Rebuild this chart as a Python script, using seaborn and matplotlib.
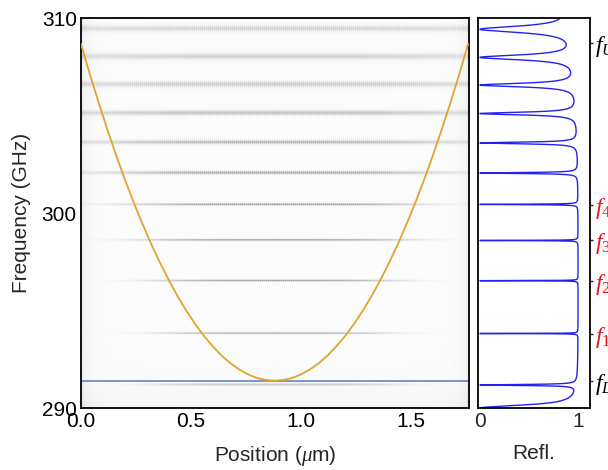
import numpy as np
import pandas as pd
import matplotlib
matplotlib.use("Agg")
import matplotlib.pyplot as plt
import seaborn as sns

# ---------------- data ----------------
# band-edge parabola (orange), sampled points read from the picture
edge_x = [0.00, 0.04, 0.08, 0.12, 0.16, 0.20, 0.24, 0.28, 0.32, 0.36, 0.40, 0.44,
          0.48, 0.52, 0.56, 0.60, 0.64, 0.68, 0.72, 0.76, 0.80, 0.84, 0.88,
          0.92, 0.96, 1.00, 1.04, 1.08, 1.12, 1.16, 1.20, 1.24, 1.28, 1.32,
          1.36, 1.40, 1.44, 1.48, 1.52, 1.56, 1.60, 1.64, 1.68, 1.72, 1.76]
edge_f = [308.67, 307.13, 305.67, 304.28, 302.96, 301.71, 300.53, 299.43, 298.39,
          297.43, 296.54, 295.72, 294.97, 294.29, 293.68, 293.15, 292.68, 292.29,
          291.97, 291.72, 291.54, 291.44, 291.40,
          291.44, 291.54, 291.72, 291.97, 292.29, 292.68, 293.15, 293.68, 294.29,
          294.97, 295.72, 296.54, 297.43, 298.39, 299.43, 300.53, 301.71, 302.96,
          304.28, 305.67, 307.13, 308.67]

# horizontal blue line (lower band-edge frequency)
blue_f = 291.37

# resonance lines in the map: frequency, darkness, line width (GHz), spatial extent (um)
map_f     = [291.20, 293.83, 296.52, 298.60, 300.42, 302.04, 303.60, 305.10, 306.57, 307.99, 309.42]
map_amp   = [0.22, 0.32, 0.34, 0.34, 0.36, 0.32, 0.29, 0.26, 0.23, 0.21, 0.19]
map_width = [0.07, 0.055, 0.055, 0.06, 0.065, 0.09, 0.11, 0.13, 0.15, 0.16, 0.17]
map_ext   = [0.60, 0.55, 0.60, 0.66, 0.72, 0.82, 0.92, 1.00, 1.05, 1.10, 1.10]

# reflection dips: centre frequency and half-width (GHz)
refl_f     = [290.00, 291.18, 293.82, 296.53, 298.59, 300.44, 302.05, 303.59, 305.10, 306.56, 307.98, 309.42, 310.85]
refl_gamma = [0.17, 0.03, 0.008, 0.008, 0.010, 0.015, 0.03, 0.05, 0.08, 0.11, 0.15, 0.20, 0.25]

# marked frequencies on the right
mark_f      = [308.70, 300.42, 298.59, 296.53, 293.82, 291.40]
mark_labels = [r"$f_U$", r"$f_4$", r"$f_3$", r"$f_2$", r"$f_1$", r"$f_L$"]
mark_colors = ["black", "#e8141e", "#e8141e", "#e8141e", "#e8141e", "black"]

x_ticks = [0.0, 0.5, 1.0, 1.5]
y_ticks = [290, 300, 310]
refl_ticks = [0, 1]

# ---------------- styling ----------------
sns.set_style("white")
plt.rcParams["font.family"] = ["Liberation Sans", "DejaVu Sans"]
plt.rcParams["mathtext.fontset"] = "custom"
plt.rcParams["mathtext.it"] = "Liberation Serif:italic"
plt.rcParams["mathtext.rm"] = "Liberation Serif"
FS = 15

fig = plt.figure(figsize=(6.08, 4.70), dpi=100)
ax = fig.add_axes([0.1332, 0.1319, 0.6382, 0.8298])
ax2 = fig.add_axes([0.7862, 0.1319, 0.1842, 0.8298])

XMAX = 1.764
# ---------------- background map built from the resonance list ----------------
nf, nx = 2000, 390
ff = np.linspace(290, 310, nf)[:, None]
xx = np.linspace(0, XMAX, nx)[None, :]
Z = np.zeros((nf, nx))
for f0, a, w, e in zip(map_f, map_amp, map_width, map_ext):
    Z += a * np.exp(-((ff - f0) / w) ** 2) * np.exp(-((xx - 0.88) / e) ** 4)
Z += 0.10 * np.exp(-xx / 0.03) + 0.10 * np.exp(-(XMAX - xx) / 0.03)
Z += 0.06 * np.exp(-(ff - 290) / 0.7)
Z += 0.025
stripes = 1.0 + 0.30 * ((np.arange(nx) % 2)[None, :])
Z = Z * stripes
ax.imshow(Z, extent=[0, XMAX, 290, 310], origin="lower", aspect="auto",
          cmap="Greys", vmin=0, vmax=1, interpolation="nearest", zorder=0)

edge_df = pd.DataFrame({"x": edge_x, "f": edge_f})
sns.lineplot(data=edge_df, x="x", y="f", sort=False, estimator=None,
             color="#e3a32f", lw=1.3, ax=ax, zorder=3)
ax.axhline(blue_f, color="#6f8fc4", lw=1.3, zorder=2)

ax.set_xlim(0, XMAX)
ax.set_ylim(290, 310)
ax.set_xticks(x_ticks)
ax.set_xticklabels([f"{t:.1f}" for t in x_ticks])
ax.set_yticks(y_ticks)
ax.set_yticklabels([str(t) for t in y_ticks])
ax.tick_params(direction="in", length=4, width=1, labelsize=FS, pad=3, colors="black")
ax.set_xlabel(r"Position ($\mu$m)", fontsize=FS, labelpad=9)
ax.set_ylabel("Frequency (GHz)", fontsize=FS, labelpad=8)
for s in ax.spines.values():
    s.set_visible(True)
    s.set_color("black")
    s.set_linewidth(1.3)

# ---------------- reflection panel ----------------
fgrid = np.linspace(289.5, 311.0, 43001)
R = np.ones_like(fgrid)
for f0, g in zip(refl_f, refl_gamma):
    R *= 1 - g ** 2 / ((fgrid - f0) ** 2 + g ** 2)
refl_df = pd.DataFrame({"R": R, "f": fgrid})
sns.lineplot(data=refl_df, x="R", y="f", sort=False, estimator=None,
             color="#2222ee", lw=1.0, ax=ax2)
ax2.set_xlim(-0.02, 1.12)
ax2.set_ylim(290, 310)
ax2.set_xticks(refl_ticks)
ax2.set_xticklabels([str(t) for t in refl_ticks])
ax2.tick_params(axis="x", direction="in", length=4, width=1, labelsize=FS, pad=3)
ax2.set_xlabel("Refl.", fontsize=FS, labelpad=9)
ax2.set_ylabel("")
ax2.yaxis.tick_right()
ax2.set_yticks(mark_f)
ax2.set_yticklabels(mark_labels)
ax2.tick_params(axis="y", direction="out", length=2.5, width=1, labelsize=17, pad=1)
for lab, c in zip(ax2.get_yticklabels(), mark_colors):
    lab.set_color(c)
for s in ax2.spines.values():
    s.set_visible(True)
    s.set_color("black")
    s.set_linewidth(1.3)

fig.savefig("out.png", dpi=100)
